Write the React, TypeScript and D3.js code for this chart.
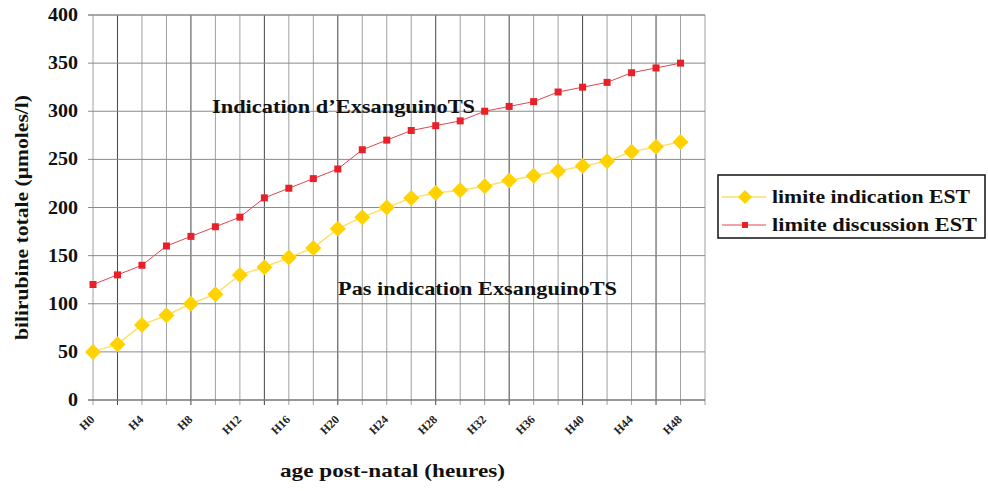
import React from "react";
import * as d3 from "d3";

const categories = Array.from({ length: 26 }, (_, i) => `H${i * 2}`);
const yellowValues = [50, 58, 78, 88, 100, 110, 130, 138, 148, 158, 178, 190, 200, 210, 215, 218, 222, 228, 233, 238, 243, 248, 258, 263, 268];
const redValues = [120, 130, 140, 160, 170, 180, 190, 210, 220, 230, 240, 260, 270, 280, 285, 290, 300, 305, 310, 320, 325, 330, 340, 345, 350];
const yTicks = [0, 50, 100, 150, 200, 250, 300, 350, 400];
const seriesNames = ["limite indication EST", "limite discussion EST"];

const FONT = "'Liberation Serif', 'Times New Roman', 'DejaVu Serif', serif";
const darkLines = new Set([1, 4, 7, 10, 14, 17, 20, 23]);

export default function App() {
  const W = 988, H = 491;
  const x = d3.scalePoint<string>().domain(categories).range([93, 705]);
  const y = d3.scaleLinear().domain([0, 400]).range([400, 15]);

  const yellowLine = d3.line<number>().x((_, i) => x(categories[i])!).y((d) => y(d))(yellowValues)!;
  const redLine = d3.line<number>().x((_, i) => x(categories[i])!).y((d) => y(d))(redValues)!;

  const diamond = (cx: number, cy: number, r: number) => `M${cx},${cy - r}L${cx + r},${cy}L${cx},${cy + r}L${cx - r},${cy}Z`;

  return (
    <svg width={W} height={H} style={{ position: "absolute", left: 0, top: 0, background: "#fff", fontFamily: FONT }}>
      <rect x={0} y={0} width={W} height={H} fill="#fff" />
      {/* vertical gridlines */}
      {categories.map((c, i) => (
        <line key={"v" + c} x1={x(c)} x2={x(c)} y1={y(400)} y2={y(0) + 5} stroke={darkLines.has(i) ? "#444" : "#a0a0a0"} strokeWidth={1} />
      ))}
      {/* horizontal gridlines */}
      {yTicks.map((t) => (
        <line key={"h" + t} x1={88} x2={705} y1={y(t)} y2={y(t)} stroke={t === 0 ? "#777" : "#8a8a8a"} strokeWidth={t === 400 || t === 0 ? 1.5 : 1} />
      ))}
      {/* y tick labels */}
      {yTicks.map((t) => (
        <text key={"yt" + t} x={78} y={y(t) + 6} textAnchor="end" fontSize={19} fontWeight="bold" fill="#111" textLength={t === 0 ? 10 : t < 100 ? 20 : 30} lengthAdjust="spacingAndGlyphs">{t}</text>
      ))}
      {/* x tick labels */}
      {categories.map((c, i) =>
        i % 2 === 0 && i < 25 ? (
          <g key={"xt" + c} transform={`translate(${x(c)! - 4},${414})`}>
            <g transform="rotate(-45)">
              <text x={0} y={0} textAnchor="end" dominantBaseline="hanging" fontSize={12} fontWeight="bold" fill="#222">{c}</text>
            </g>
          </g>
        ) : null
      )}
      {/* series lines */}
      <path d={yellowLine} fill="none" stroke="#FFE066" strokeWidth={1.5} />
      <path d={redLine} fill="none" stroke="#E0474C" strokeWidth={1} />
      {yellowValues.map((v, i) => (
        <path key={"ym" + i} d={diamond(x(categories[i])!, y(v), 8)} fill="#FFD200" />
      ))}
      {redValues.map((v, i) => (
        <rect key={"rm" + i} x={x(categories[i])! - 3.5} y={y(v) - 3.5} width={7} height={7} fill="#E8202A" />
      ))}
      {/* annotations */}
      <text x={212} y={113} fontSize={19} fontWeight="bold" fill="#111" textLength={263} lengthAdjust="spacingAndGlyphs">Indication d’ExsanguinoTS</text>
      <text x={338} y={295} fontSize={19} fontWeight="bold" fill="#111" textLength={279} lengthAdjust="spacingAndGlyphs">Pas indication ExsanguinoTS</text>
      {/* axis titles */}
      <text transform={`translate(28,${340}) rotate(-90)`} fontSize={19} fontWeight="bold" fill="#111" textLength={245} lengthAdjust="spacingAndGlyphs">bilirubine totale (µmoles/l)</text>
      <text x={280} y={477} fontSize={19} fontWeight="bold" fill="#111" textLength={225} lengthAdjust="spacingAndGlyphs">age post-natal (heures)</text>
      {/* legend */}
      <rect x={718} y={175} width={267} height={63} fill="#fff" stroke="#111" strokeWidth={1.5} />
      <line x1={722} x2={766} y1={197} y2={197} stroke="#FFE066" strokeWidth={1.5} />
      <path d={diamond(745, 197, 7)} fill="#FFD200" />
      <text x={772} y={203} fontSize={18} fontWeight="bold" fill="#111" textLength={198} lengthAdjust="spacingAndGlyphs">{seriesNames[0]}</text>
      <line x1={722} x2={766} y1={225} y2={225} stroke="#E0474C" strokeWidth={1} />
      <rect x={742} y={222} width={6} height={6} fill="#E8202A" />
      <text x={772} y={231} fontSize={18} fontWeight="bold" fill="#111" textLength={205} lengthAdjust="spacingAndGlyphs">{seriesNames[1]}</text>
    </svg>
  );
}
